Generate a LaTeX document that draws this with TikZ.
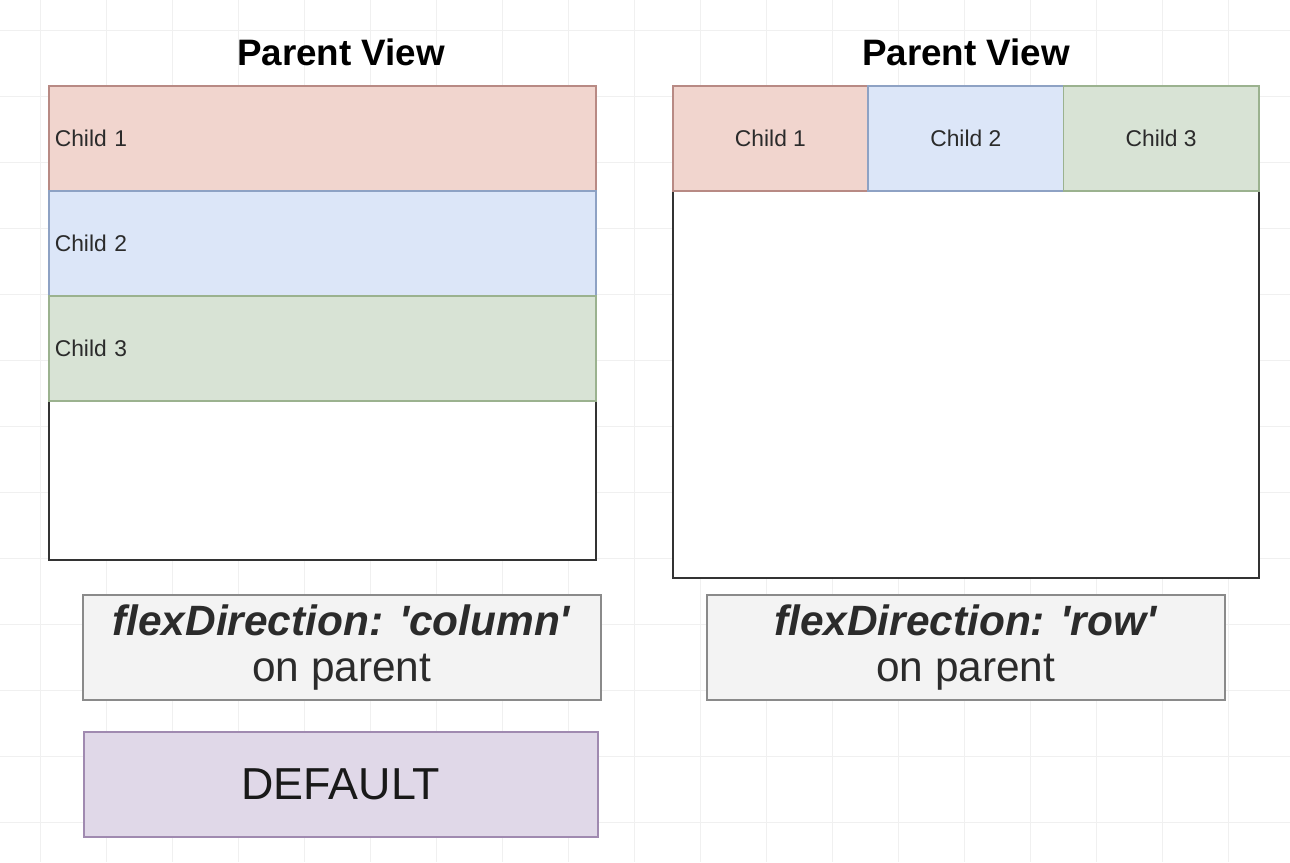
\documentclass[tikz,border=0pt]{standalone}
\usepackage{fontspec}
\setmainfont{Liberation Sans}
\definecolor{redfill}{HTML}{F1D5CE}
\definecolor{redline}{HTML}{B88A84}
\definecolor{bluefill}{HTML}{DCE6F8}
\definecolor{blueline}{HTML}{8EA2C4}
\definecolor{greenfill}{HTML}{D8E3D5}
\definecolor{greenline}{HTML}{9BB28F}
\definecolor{notefill}{HTML}{F3F3F3}
\definecolor{noteline}{HTML}{8A8A8A}
\definecolor{purplefill}{HTML}{E0D8E8}
\definecolor{purpleline}{HTML}{A08AB0}
\definecolor{textgray}{HTML}{2B2B2B}
\tikzset{
  box/.style={draw, line width=0.8pt, anchor=north west, inner sep=0pt},
  parentbox/.style={box, draw=black!80, fill=white},
  colchild/.style={box, text width=267.5pt, inner xsep=3pt, align=left,
    minimum height=52.5pt, font=\fontsize{11.4}{13}\selectfont, text=textgray},
  rowchild/.style={box, minimum width=97.67pt, minimum height=52.5pt, align=center,
    font=\fontsize{11.4}{13}\selectfont, text=textgray},
  notebox/.style={box, fill=notefill, draw=noteline, minimum width=259pt,
    minimum height=52.5pt, align=center, font=\fontsize{21.2}{23}\selectfont, text=textgray},
  title/.style={font=\fontsize{18.4}{20}\selectfont\bfseries},
  gridline/.style={draw=black!6, line width=0.4pt}
}
\newcommand{\sq}{\textquotesingle}
\begin{document}
\begin{tikzpicture}[x=0.5pt,y=-0.5pt]
  \useasboundingbox (0,0) rectangle (1290,862);
  \foreach \gx in {40,106,...,1290}
    \draw[gridline] (\gx,0) -- (\gx,862);
  \foreach \gy in {30,96,...,862}
    \draw[gridline] (0,\gy) -- (1290,\gy);

  \node[title] (lefttitle) at (341,52) {Parent View};
  \node[title] (righttitle) at (966,52) {Parent View};

  \node[parentbox, minimum width=273.5pt, minimum height=237pt] (leftparent) at (48,85) {};
  \node[parentbox, minimum width=293pt, minimum height=246pt] (rightparent) at (672,85) {};

  \node[colchild, fill=redfill, draw=redline] (lchild1) at (48,85) {Child 1};
  \node[colchild, fill=bluefill, draw=blueline] (lchild2) at (48,190) {Child 2};
  \node[colchild, fill=greenfill, draw=greenline] (lchild3) at (48,295) {Child 3};

  \node[rowchild, fill=redfill, draw=redline] (rchild1) at (672,85) {Child 1};
  \node[rowchild, fill=bluefill, draw=blueline] (rchild2) at (867.33,85) {Child 2};
  \node[rowchild, fill=greenfill, draw=greenline] (rchild3) at (1062.67,85) {Child 3};

  \node[notebox] (colnote) at (82,594) {\textbf{\textit{flexDirection: \sq column\sq}}\\on parent};
  \node[notebox] (rownote) at (706,594) {\textbf{\textit{flexDirection: \sq row\sq}}\\on parent};

  \node[box, fill=purplefill, draw=purpleline, minimum width=257pt, minimum height=52.5pt,
    font=\fontsize{22.4}{24}\selectfont, text=black!90] (default) at (83,731) {DEFAULT};
\end{tikzpicture}
\end{document}
